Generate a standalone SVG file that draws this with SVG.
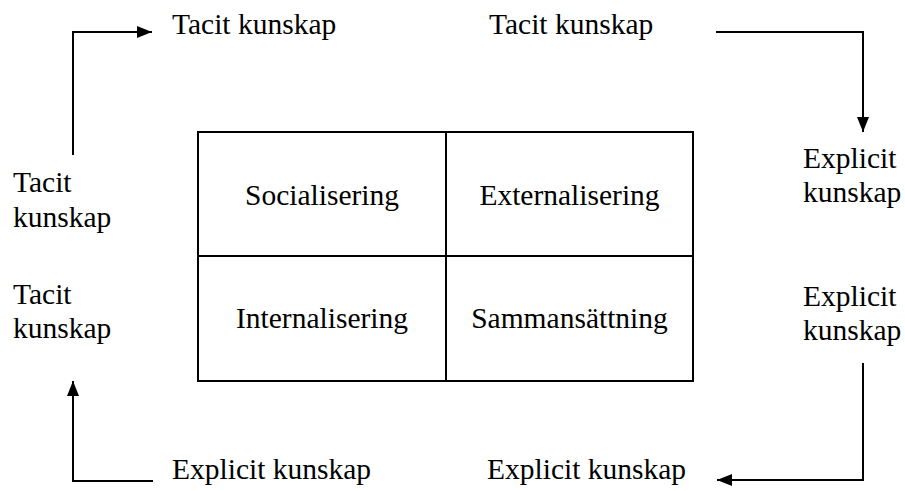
<svg xmlns="http://www.w3.org/2000/svg" width="905" height="491" viewBox="0 0 905 491">
  <style>
    text { font-family: 'Liberation Serif', 'Times New Roman', Times, serif; font-size: 29.5px; fill: #000; }
    .mid { text-anchor: middle; }
    .cell { fill: none; stroke: #000; stroke-width: 2; }
    .conn { fill: none; stroke: #000; stroke-width: 2; marker-end: url(#arrow); }
  </style>
  <defs>
    <marker id="arrow" markerUnits="userSpaceOnUse" markerWidth="16" markerHeight="13" refX="15" refY="6" orient="auto">
      <path d="M0,0 L15,6 L0,12 Z" fill="#000"/>
    </marker>
  </defs>

  <rect width="905" height="491" fill="#fff"/>

  <!-- 2x2 matrix of conversion modes -->
  <g id="matrix">
    <g id="socialisering">
      <rect class="cell" x="198" y="132" width="248" height="124"/>
      <text class="mid" x="322" y="205">Socialisering</text>
    </g>
    <g id="externalisering">
      <rect class="cell" x="446" y="132" width="247" height="124"/>
      <text class="mid" x="569.5" y="205">Externalisering</text>
    </g>
    <g id="internalisering">
      <rect class="cell" x="198" y="256" width="248" height="125"/>
      <text class="mid" x="322" y="328">Internalisering</text>
    </g>
    <g id="sammansattning">
      <rect class="cell" x="446" y="256" width="247" height="125"/>
      <text class="mid" x="569.5" y="328">Sammansättning</text>
    </g>
  </g>

  <!-- outer knowledge labels -->
  <g id="top-left-label"><text x="172" y="34">Tacit kunskap</text></g>
  <g id="top-right-label"><text x="489" y="34">Tacit kunskap</text></g>
  <g id="left-upper-label">
    <text x="13" y="192">Tacit</text>
    <text x="13" y="227">kunskap</text>
  </g>
  <g id="left-lower-label">
    <text x="13" y="304">Tacit</text>
    <text x="13" y="338">kunskap</text>
  </g>
  <g id="right-upper-label">
    <text x="803" y="168">Explicit</text>
    <text x="803" y="202">kunskap</text>
  </g>
  <g id="right-lower-label">
    <text x="803" y="306">Explicit</text>
    <text x="803" y="340">kunskap</text>
  </g>
  <g id="bottom-left-label"><text x="172" y="479">Explicit kunskap</text></g>
  <g id="bottom-right-label"><text x="487" y="479">Explicit kunskap</text></g>

  <!-- connectors -->
  <g id="connectors">
    <path class="conn" d="M73,155 L73,32 L152,32"/>
    <path class="conn" d="M716,32 L863,32 L863,132"/>
    <path class="conn" d="M863,363 L863,480 L717,480"/>
    <path class="conn" d="M153,481 L73,481 L73,381"/>
  </g>
</svg>
